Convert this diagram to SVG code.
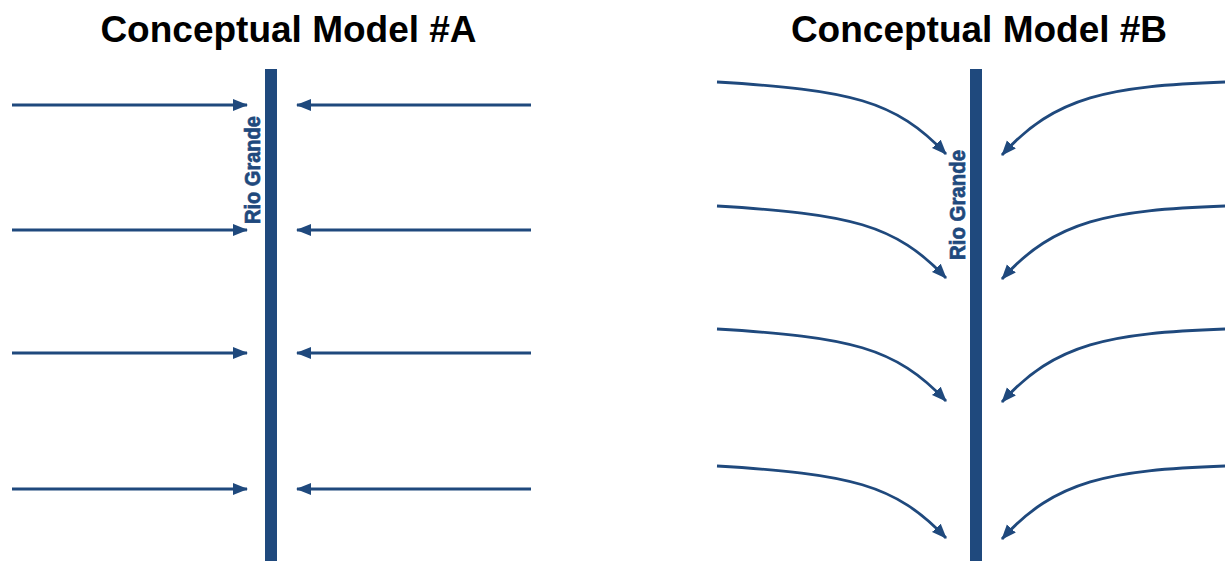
<svg xmlns="http://www.w3.org/2000/svg" width="1225" height="561" viewBox="0 0 1225 561">
  <style>
    .title { font-family: "Liberation Sans", Arial, sans-serif; font-weight: bold; font-size: 37px; fill: #000; text-anchor: middle; }
    .river { fill: #1F497D; }
    .rlabel { font-family: "Liberation Sans", Arial, sans-serif; font-weight: bold; font-size: 22px; fill: #1F497D; stroke: #1F497D; stroke-width: 0.7; text-anchor: middle; }
    .flow { fill: none; stroke: #1F497D; stroke-width: 2.8; marker-end: url(#ah); }
  </style>
  <defs>
    <marker id="ah" markerUnits="userSpaceOnUse" markerWidth="15" markerHeight="13" refX="14" refY="6" orient="auto" viewBox="0 0 15 12">
      <path d="M0,0 L15,6 L0,12 z" fill="#1F497D"/>
    </marker>
    <path id="cl" d="M717,82 C850,90 895,100 946,154"/>
    <path id="cr" d="M1225,82 C1110,86 1055,96 1002,155"/>
  </defs>

  <g id="title-a"><text class="title" x="288.5" y="42">Conceptual Model #A</text></g>
  <g id="title-b"><text class="title" x="979" y="42">Conceptual Model #B</text></g>

  <g id="river-a">
    <rect class="river" x="265" y="69" width="12" height="492"/>
    <text class="rlabel" transform="translate(260,170) rotate(-90)" textLength="108" lengthAdjust="spacingAndGlyphs">Rio Grande</text>
  </g>
  <g id="river-b">
    <rect class="river" x="970" y="69" width="12" height="492"/>
    <text class="rlabel" transform="translate(965,205) rotate(-90)" textLength="110" lengthAdjust="spacingAndGlyphs">Rio Grande</text>
  </g>

  <g id="connectors">
    <line class="flow" x1="12" y1="105" x2="247" y2="105"/>
    <line class="flow" x1="12" y1="230" x2="247" y2="230"/>
    <line class="flow" x1="12" y1="353" x2="247" y2="353"/>
    <line class="flow" x1="12" y1="489" x2="247" y2="489"/>
    <line class="flow" x1="531" y1="105" x2="297" y2="105"/>
    <line class="flow" x1="531" y1="230" x2="297" y2="230"/>
    <line class="flow" x1="531" y1="353" x2="297" y2="353"/>
    <line class="flow" x1="531" y1="489" x2="297" y2="489"/>

    <use href="#cl" class="flow"/>
    <use href="#cl" class="flow" transform="translate(0,124)"/>
    <use href="#cl" class="flow" transform="translate(0,247)"/>
    <use href="#cl" class="flow" transform="translate(0,384)"/>
    <use href="#cr" class="flow"/>
    <use href="#cr" class="flow" transform="translate(0,124)"/>
    <use href="#cr" class="flow" transform="translate(0,247)"/>
    <use href="#cr" class="flow" transform="translate(0,384)"/>
  </g>
</svg>
